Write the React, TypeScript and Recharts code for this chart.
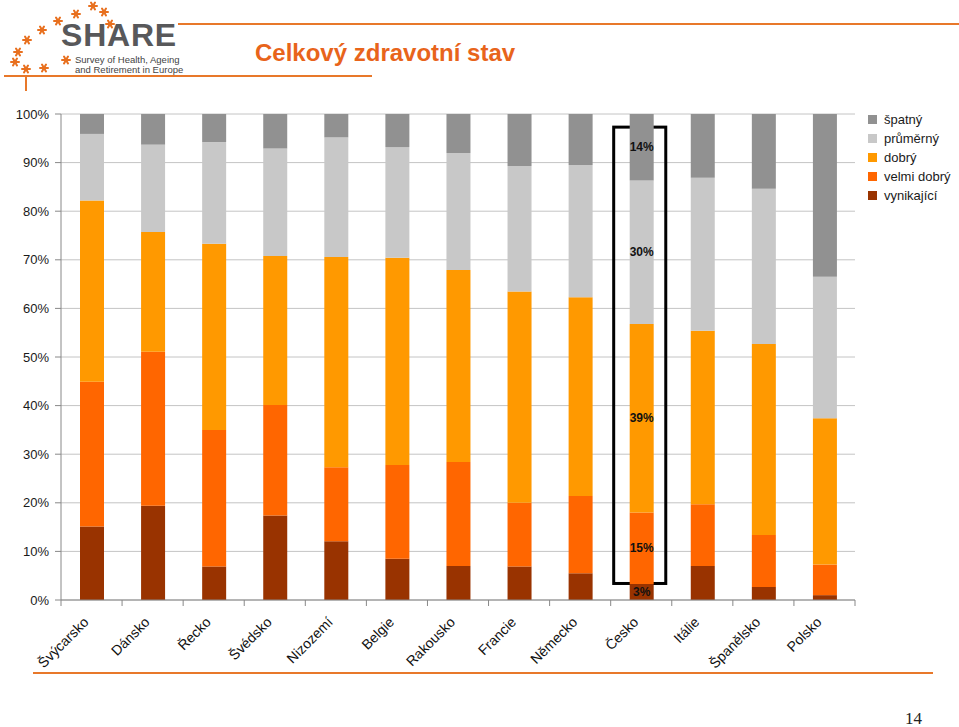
import React from "react";
import {
  BarChart,
  Bar,
  XAxis,
  YAxis,
  CartesianGrid,
  LabelList,
  ReferenceArea,
} from "recharts";

const countries = [
  "Švýcarsko", "Dánsko", "Řecko", "Švédsko", "Nizozemí", "Belgie", "Rakousko",
  "Francie", "Německo", "Česko", "Itálie", "Španělsko", "Polsko",
];
const vynikajici = [15.1, 19.4, 6.9, 17.4, 12.1, 8.5, 7.0, 6.9, 5.5, 3.3, 7.0, 2.7, 1.0];
const velmiDobry = [29.8, 31.7, 28.1, 22.7, 15.2, 19.3, 21.4, 13.1, 15.9, 14.7, 12.7, 10.7, 6.3];
const dobry = [37.3, 24.6, 38.3, 30.7, 43.3, 42.6, 39.5, 43.5, 40.9, 38.8, 35.7, 39.3, 30.1];
const prumerny = [13.7, 18.0, 20.9, 22.1, 24.6, 22.8, 24.1, 25.8, 27.2, 29.5, 31.5, 31.9, 29.1];
const spatny = [4.1, 6.3, 5.8, 7.1, 4.8, 6.8, 8.0, 10.7, 10.5, 13.7, 13.1, 15.4, 33.5];

const yTicks = [0, 10, 20, 30, 40, 50, 60, 70, 80, 90, 100];
const highlightCountry = "Česko";
const highlightRange = [3.4, 97.3];

const seriesKeys = ["vynikajici", "velmiDobry", "dobry", "prumerny", "spatny"];
const seriesNames = ["vynikající", "velmi dobrý", "dobrý", "průměrný", "špatný"];
const seriesValues = [vynikajici, velmiDobry, dobry, prumerny, spatny];
const seriesColors = ["#993300", "#ff6600", "#ff9900", "#c8c8c8", "#919191"];

const data = countries.map((c, i) => {
  const row: any = { country: c };
  seriesKeys.forEach((k, j) => (row[k] = seriesValues[j][i]));
  return row;
});

const highlightIndex = countries.indexOf(highlightCountry);

const FONT = "'Liberation Sans', Arial, sans-serif";

const XTick = (props: any) => {
  const { x, y, payload, index } = props;
  const off = payload && typeof payload.offset === "number" && payload.offset > 0 ? payload.offset : 30.5;
  const ax = x - 2;
  const ay = y + 18;
  return (
    <g>
      <line x1={x - off} y1={y - 5} x2={x - off} y2={y + 1} stroke="#888" strokeWidth={1} />
      {index === countries.length - 1 && (
        <line x1={x + off} y1={y - 5} x2={x + off} y2={y + 1} stroke="#888" strokeWidth={1} />
      )}
      <text
        x={ax}
        y={ay}
        transform={`rotate(-45, ${ax}, ${ay})`}
        textAnchor="end"
        fontSize={14}
        fontFamily={FONT}
        fill="#111"
      >
        {payload.value}
      </text>
    </g>
  );
};

const makeLabel = (values: number[]) => (props: any) => {
  const { x, y, width, height, index } = props;
  if (index !== highlightIndex) return null;
  return (
    <text
      x={x + width / 2}
      y={y + height / 2 + 4}
      textAnchor="middle"
      fontSize={12}
      fontWeight="bold"
      fontFamily={FONT}
      fill="#111"
    >
      {Math.round(values[index]) + "%"}
    </text>
  );
};

const LegendBox = () => {
  const order = [4, 3, 2, 1, 0];
  return (
    <div
      style={{
        position: "absolute",
        left: 868,
        top: 110,
        fontFamily: FONT,
        fontSize: 13,
        color: "#1a1a1a",
        lineHeight: "19px",
      }}
    >
      {order.map((j) => (
        <div key={j} style={{ display: "flex", alignItems: "center", height: 19 }}>
          <span
            style={{
              display: "inline-block",
              width: 9,
              height: 9,
              background: seriesColors[j],
              marginRight: 7,
            }}
          />
          <span>{seriesNames[j]}</span>
        </div>
      ))}
    </div>
  );
};

const Star = ({ x, y }: { x: number; y: number }) => (
  <g stroke="#e8701f" strokeWidth={2} strokeLinecap="round">
    <line x1={x - 4} y1={y} x2={x + 4} y2={y} />
    <line x1={x - 2} y1={y - 3.5} x2={x + 2} y2={y + 3.5} />
    <line x1={x + 2} y1={y - 3.5} x2={x - 2} y2={y + 3.5} />
  </g>
);

const starPositions = [
  [76, 14], [93, 6], [104, 12], [110, 24], [58, 21], [42, 30], [27, 40],
  [18, 52], [15, 62], [26, 69], [44, 68], [66, 60],
];

export default function App() {
  return (
    <div style={{ position: "absolute", left: 0, top: 0, width: 959, height: 727, background: "#fff" }}>
      <svg
        width={959}
        height={727}
        style={{ position: "absolute", left: 0, top: 0, pointerEvents: "none" }}
      >
        {starPositions.map(([sx, sy], i) => (
          <Star key={i} x={sx} y={sy} />
        ))}
        <text x={61} y={46} fontFamily={FONT} fontWeight="bold" fontSize={32} fill="#58585a" letterSpacing={0.8}>
          SHARE
        </text>
        <text x={75} y={63} fontFamily={FONT} fontSize={9.5} fill="#444">
          Survey of Health, Ageing
        </text>
        <text x={75} y={73} fontFamily={FONT} fontSize={9.5} fill="#444">
          and Retirement in Europe
        </text>
        <line x1={178} y1={24} x2={959} y2={24} stroke="#e8782a" strokeWidth={2} />
        <line x1={4} y1={76} x2={372} y2={76} stroke="#e8782a" strokeWidth={2} />
        <line x1={26} y1={76} x2={26} y2={91} stroke="#e8782a" strokeWidth={2} />
        <text x={255} y={61} fontFamily={FONT} fontWeight="bold" fontSize={24} fill="#e8641b">
          Celkový zdravotní stav
        </text>
        <line x1={33} y1={673} x2={933} y2={673} stroke="#e8782a" strokeWidth={2} />
        <text x={905} y={724} fontFamily="'Liberation Serif', 'DejaVu Serif', serif" fontSize={17} fill="#222">
          14
        </text>
      </svg>
      <div style={{ position: "absolute", left: 0, top: 0 }}>
        <BarChart
          width={959}
          height={727}
          data={data}
          margin={{ top: 114, right: 104, bottom: 67, left: 0 }}
          barSize={24}
        >
          <CartesianGrid horizontal vertical={false} stroke="#c4c4c4" />
          <XAxis
            dataKey="country"
            interval={0}
            tickLine={false}
            tickSize={5}
            tickMargin={0}
            height={60}
            axisLine={{ stroke: "#888" }}
            tick={<XTick />}
          />
          <YAxis
            domain={[0, 100]}
            ticks={yTicks}
            interval={0}
            width={61}
            tickSize={6}
            tickMargin={6}
            tickLine={{ stroke: "#888" }}
            axisLine={{ stroke: "#888" }}
            tickFormatter={(v: number) => v + "%"}
            tick={{ fontSize: 13, fontFamily: FONT, fill: "#1a1a1a" }}
          />
          <YAxis
            yAxisId="right"
            orientation="right"
            domain={[0, 100]}
            width={0}
            tick={false}
            tickLine={false}
            axisLine={{ stroke: "#888" }}
          />
          {seriesKeys.map((k, j) => (
            <Bar
              key={k}
              dataKey={k}
              name={seriesNames[j]}
              stackId="a"
              fill={seriesColors[j]}
              isAnimationActive={false}
            >
              <LabelList content={makeLabel(seriesValues[j])} />
            </Bar>
          ))}
          <ReferenceArea
            x1={highlightCountry}
            x2={highlightCountry}
            y1={highlightRange[0]}
            y2={highlightRange[1]}
            ifOverflow="visible"
            shape={(p: any) => (
              <rect
                x={p.x + 3}
                y={p.y}
                width={p.width - 9}
                height={p.height}
                fill="none"
                stroke="#000"
                strokeWidth={3}
              />
            )}
          />
        </BarChart>
      </div>
      <LegendBox />
    </div>
  );
}
